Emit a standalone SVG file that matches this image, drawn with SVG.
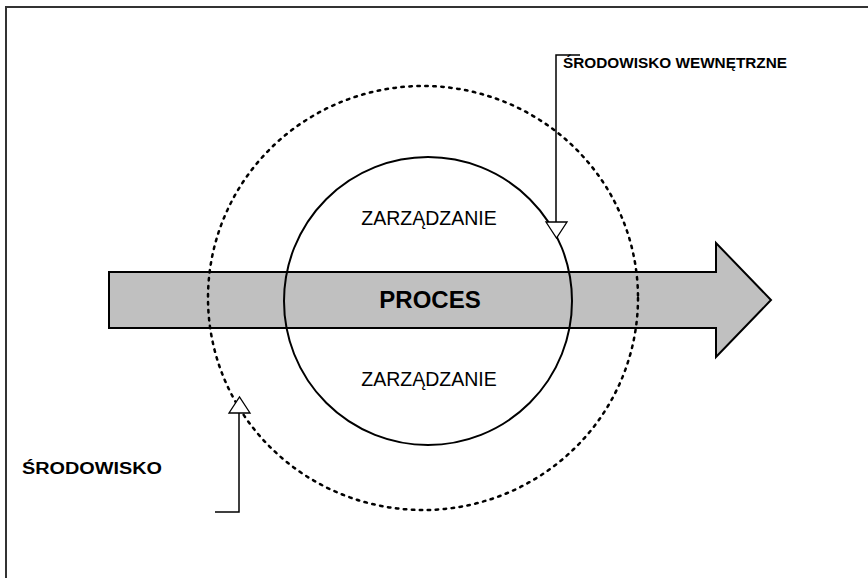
<svg xmlns="http://www.w3.org/2000/svg" width="868" height="578" viewBox="0 0 868 578">
<style>
.frame{fill:none;stroke:#333;stroke-width:2}
.arrow{fill:#c0c0c0;stroke:#000;stroke-width:2;stroke-linejoin:miter}
.solid{fill:none;stroke:#000;stroke-width:2}
.dotted{fill:none;stroke:#000;stroke-width:2.5;stroke-dasharray:2.5 5.5;stroke-linecap:round}
.line{fill:none;stroke:#000;stroke-width:1.5}
.tri{fill:#fff;stroke:#000;stroke-width:1.3}
.reg{font-family:"Liberation Sans",Arial,sans-serif;font-size:19.5px;fill:#000}
.bold{font-family:"Liberation Sans",Arial,sans-serif;font-weight:bold;fill:#000}
</style>
<rect width="868" height="578" fill="#fff"/>
<polyline class="frame" points="6,578 6,7 868,7"/>
<g id="proces">
<polygon class="arrow" points="109,272 716,272 716,243 771,300 716,357 716,328 109,328"/>
<text class="bold" x="430" y="308" font-size="24" text-anchor="middle">PROCES</text>
</g>
<g id="srodowisko-wewnetrzne-circle">
<ellipse class="dotted" cx="423" cy="298" rx="215" ry="212"/>
</g>
<g id="zarzadzanie">
<circle class="solid" cx="428" cy="301" r="144"/>
<text class="reg" x="429" y="225" text-anchor="middle">ZARZĄDZANIE</text>
<text class="reg" x="429" y="386" text-anchor="middle">ZARZĄDZANIE</text>
</g>
<g id="connectors">
<polyline class="line" points="580,55 556,55 556,222"/>
<polygon class="tri" points="546,222 567,222 556.5,238"/>
<polyline class="line" points="215,512 239,512 239,413"/>
<polygon class="tri" points="229,413 250,413 239.5,397"/>
</g>
<g id="label-wewnetrzne">
<text class="bold" x="563" y="68" font-size="15" textLength="224" lengthAdjust="spacingAndGlyphs">ŚRODOWISKO WEWNĘTRZNE</text>
</g>
<g id="label-srodowisko">
<text class="bold" x="22" y="474" font-size="16" textLength="140" lengthAdjust="spacingAndGlyphs">ŚRODOWISKO</text>
</g>
</svg>
